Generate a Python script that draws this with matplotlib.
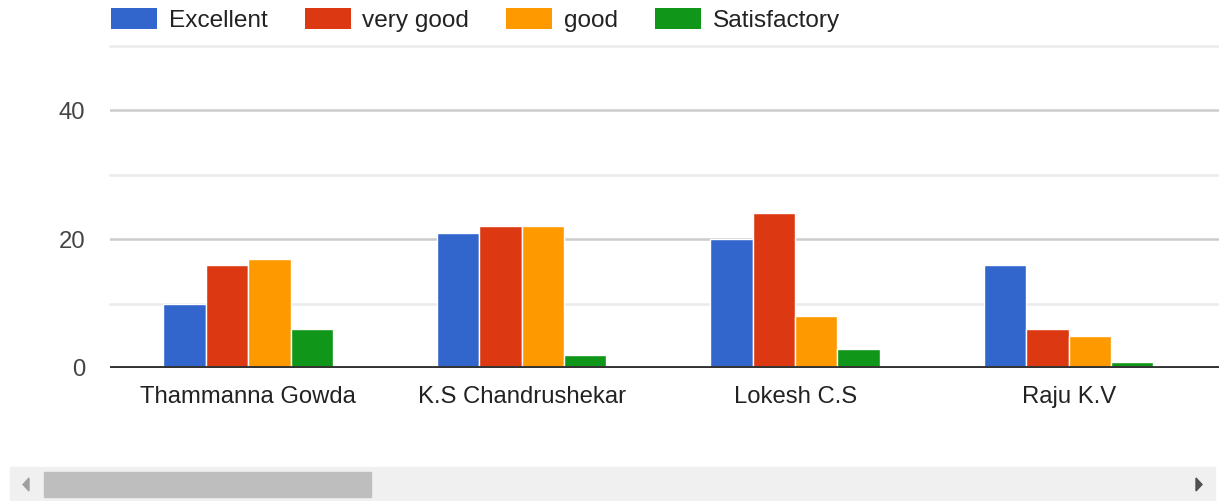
import numpy as np
import matplotlib
matplotlib.use("Agg")
import matplotlib.pyplot as plt
from matplotlib.patches import Rectangle, Polygon, Patch

# data
teachers = ["Thammanna Gowda", "K.S Chandrushekar", "Lokesh C.S", "Raju K.V"]
series = ["Excellent", "very good", "good", "Satisfactory"]
excellent = [10, 21, 20, 16]
very_good = [16, 22, 24, 6]
good = [17, 22, 8, 5]
satisfactory = [6, 2, 3, 1]
colors = ["#3366cc", "#dc3912", "#ff9900", "#109618"]
yticks = [0, 20, 40]

W, H = 1219, 501
plt.rcParams["font.family"] = ["Liberation Sans", "DejaVu Sans"]

fig = plt.figure(figsize=(W / 100, H / 100), dpi=100)
# plot area in pixels: x 110..1219, y 46..368
ax = fig.add_axes([110 / W, (H - 368) / H, (W - 110) / W, (368 - 46) / H])

x = np.arange(len(teachers))
step = 0.155
values = [excellent, very_good, good, satisfactory]
for i, (name, vals, c) in enumerate(zip(series, values, colors)):
    ax.bar(x + (i - 1.5) * step, vals, width=step, color=c,
           edgecolor="white", linewidth=1.0, zorder=3)

ax.set_xlim(-0.505, 3.55)
ax.set_ylim(0, 50)

# gridlines
for v in [10, 30, 50]:
    ax.axhline(v, color="#ebebeb", lw=1.8, zorder=1, clip_on=False)
for v in [20, 40]:
    ax.axhline(v, color="#cccccc", lw=1.8, zorder=1)
ax.axhline(0, color="#333333", lw=2.8, zorder=4)

for s in ax.spines.values():
    s.set_visible(False)
ax.set_yticks(yticks)
ax.set_yticklabels([str(v) for v in yticks], fontsize=17.2, color="#444444")
ax.set_xticks(x)
ax.set_xticklabels(teachers, fontsize=17.2, color="#222222")
ax.tick_params(axis="both", length=0)
ax.tick_params(axis="y", pad=18)
ax.tick_params(axis="x", pad=13)

handles = [Patch(facecolor=c, edgecolor="none") for c in colors]
leg = ax.legend(handles, series, loc="upper left",
                bbox_to_anchor=(111 / W, 1 - 8 / H),
                bbox_transform=fig.transFigure, ncol=4, frameon=False,
                fontsize=17.6, handlelength=1.88, handleheight=0.92,
                handletextpad=0.48, columnspacing=1.52, borderpad=0,
                borderaxespad=0)
for t in leg.get_texts():
    t.set_color("#222222")

# scrollbar at the bottom
fig.patches.append(Rectangle((10 / W, 0), (1215 - 10) / W, (501 - 467) / H,
                             transform=fig.transFigure, color="#f0f0f0"))
fig.patches.append(Rectangle((44 / W, 4 / H), (371 - 44) / W, (497 - 472) / H,
                             transform=fig.transFigure, color="#bebebe"))
fig.patches.append(Polygon([[29 / W, (H - 478) / H], [29 / W, (H - 491) / H],
                            [23 / W, (H - 484.5) / H]],
                           transform=fig.transFigure, color="#a0a0a0"))
fig.patches.append(Polygon([[1196 / W, (H - 478) / H], [1196 / W, (H - 491) / H],
                            [1202 / W, (H - 484.5) / H]],
                           transform=fig.transFigure, color="#505050"))

fig.savefig("out.png", dpi=100)
